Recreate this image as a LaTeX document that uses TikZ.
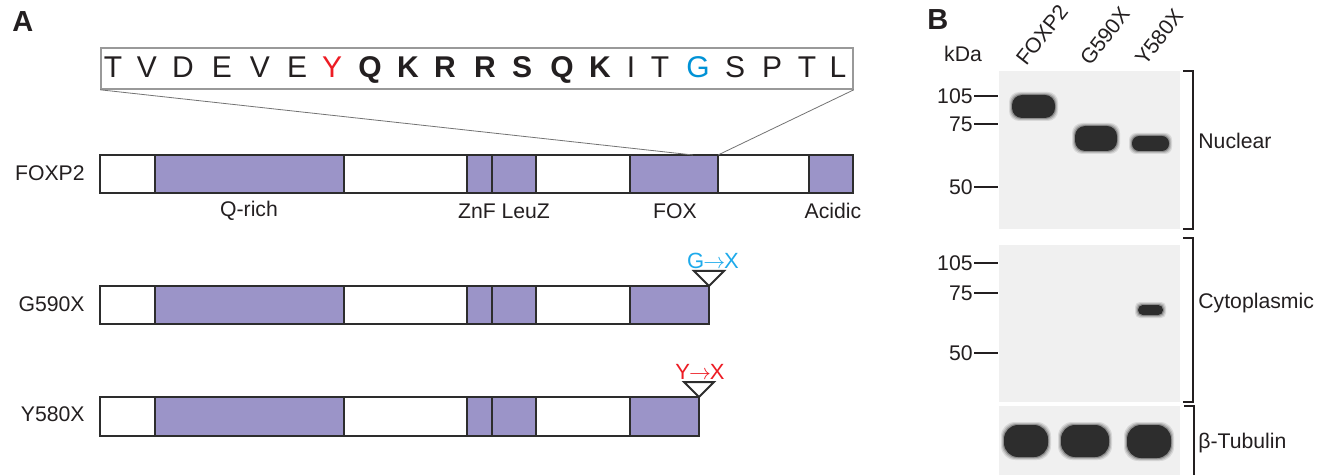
\documentclass[tikz,border=0pt]{standalone}
\usepackage{fontspec}
\setmainfont{Liberation Sans}
\definecolor{domc}{RGB}{155,148,200}
\definecolor{linec}{RGB}{45,45,45}
\definecolor{txtc}{RGB}{35,31,32}
\definecolor{redc}{RGB}{237,28,36}
\definecolor{bluec}{RGB}{0,146,214}
\definecolor{cyanc}{RGB}{30,170,235}
\definecolor{blotbg}{RGB}{240,240,240}
\definecolor{bandc}{RGB}{45,45,45}
\newcommand\blotband[5]{%
  \foreach \e/\o in {3/0.12,2/0.18,1/0.3}{%
    \fill[bandc, opacity=\o, rounded corners=#5] (#1-\e,#2-\e) rectangle (#3+\e,#4+\e);}%
  \fill[bandc, rounded corners=#5] (#1,#2) rectangle (#3,#4);}
\begin{document}
\begin{tikzpicture}[x=0.5pt,y=-0.5pt,
  txt/.style={text=txtc, inner sep=0pt, font=\fontsize{10.6}{12}\selectfont},
  seqletter/.style={text=txtc, inner sep=0pt, anchor=base, font=\fontsize{15}{18}\selectfont},
  seqbold/.style={seqletter, font=\fontsize{15}{18}\selectfont\bfseries},
  panel/.style={text=txtc, inner sep=0pt, font=\fontsize{14.5}{16}\selectfont\bfseries},
  seg/.style={draw=linec, line width=1pt},
  zoomline/.style={draw=black!55, line width=0.4pt},
  marker/.style={draw=txtc, line width=0.9pt},
  bracket/.style={draw=txtc, line width=0.7pt},
  mut/.style={inner sep=0pt, font=\fontsize{11}{12}\selectfont},
  collabel/.style={txt, anchor=base west, rotate=52}]
\useasboundingbox (0,0) rectangle (1325,475);
\fill[white] (0,0) rectangle (1325,475);

% ---------- Panel A ----------
\node[panel, anchor=west] (pA) at (12,22) {A};

\node[draw=black!40, line width=0.8pt, minimum width=376pt, minimum height=20.5pt, inner sep=0pt] (seq) at (477,68.5) {};
\foreach \ch/\xx/\st [count=\i] in {T/113/seqletter, V/147/seqletter, D/183/seqletter, E/222/seqletter, V/260/seqletter, E/297/seqletter,
   Q/370/seqbold, K/408/seqbold, R/445/seqbold, R/485/seqbold, S/522/seqbold, Q/562/seqbold, K/600/seqbold,
   I/631/seqletter, T/660/seqletter, S/735/seqletter, P/772/seqletter, T/807/seqletter, L/838/seqletter}
  \node[\st] (s\i) at (\xx,78) {\ch};
\node[seqletter, text=redc] (sY) at (332,78) {Y};
\node[seqletter, text=bluec] (sG) at (698,78) {G};

% FOXP2 bar
\foreach \a/\b/\f in {100/155/white, 155/344/domc, 344/467/white, 467/492/domc, 492/536/domc, 536/630/white, 630/718/domc, 718/809/white, 809/853/domc}
  \draw[seg, fill=\f] (\a,155) rectangle (\b,193);
\coordinate (zl) at (693,155);
\coordinate (zr) at (718,155);
\draw[zoomline] (seq.south west) -- (zl);
\draw[zoomline] (seq.south east) -- (zr);
\node[txt, anchor=east] (lf) at (85,173) {FOXP2};
\node[txt] (dq) at (249,211) {Q-rich};
\node[txt] (dz) at (504,211) {ZnF LeuZ};
\node[txt] (df) at (675,211) {FOX};
\node[txt] (da) at (833,211) {Acidic};

% G590X bar
\foreach \a/\b/\f in {100/155/white, 155/344/domc, 344/467/white, 467/492/domc, 492/536/domc, 536/630/white, 630/709/domc}
  \draw[seg, fill=\f] (\a,286) rectangle (\b,324);
\node[txt, anchor=east] (lg) at (85,304) {G590X};
\coordinate (tg) at (709,286);
\draw[seg, fill=white, line join=miter] (tg) -- ++(-15,-15) -- ++(30,0) -- cycle;
\node[mut, text=cyanc] (mg) at (713,261) {G\kern-0.5pt$\rightarrow$\kern-0.5pt X};

% Y580X bar
\foreach \a/\b/\f in {100/155/white, 155/344/domc, 344/467/white, 467/492/domc, 492/536/domc, 536/630/white, 630/699/domc}
  \draw[seg, fill=\f] (\a,397) rectangle (\b,436);
\node[txt, anchor=east] (ly) at (85,414) {Y580X};
\coordinate (ty) at (699,397);
\draw[seg, fill=white, line join=miter] (ty) -- ++(-15,-15) -- ++(30,0) -- cycle;
\node[mut, text=redc] (my) at (700,372) {Y\kern-0.5pt$\rightarrow$\kern-0.5pt X};

% ---------- Panel B ----------
\node[panel, anchor=west] (pB) at (927,20) {B};
\node[txt, anchor=base] (kda) at (963,62) {kDa};
\node[collabel] (cf) at (1026,67) {FOXP2};
\node[collabel] (cg) at (1090,67) {G590X};
\node[collabel] (cy) at (1145,67) {Y580X};

% blot 1
\fill[blotbg] (999,71) rectangle (1180,229);
\blotband{1012}{95}{1055}{118}{5pt}
\blotband{1075}{126}{1117}{151}{5pt}
\blotband{1132}{136}{1169}{151}{3.5pt}
\foreach \mv/\yy in {105/96, 75/124, 50/187} {
  \draw[marker] (974,\yy) -- (998,\yy);
  \node[txt, anchor=east] (m1\mv) at (973,\yy) {\mv};
}
\draw[bracket] (1183,71) -- (1193,71) -- (1193,229) -- (1183,229);
\node[txt, anchor=west] (nuc) at (1198,141) {Nuclear};

% blot 2
\fill[blotbg] (999,245) rectangle (1180,402);
\blotband{1138}{305}{1163}{315}{2.4pt}
\foreach \mv/\yy in {105/263, 75/293, 50/353} {
  \draw[marker] (974,\yy) -- (998,\yy);
  \node[txt, anchor=east] (m2\mv) at (973,\yy) {\mv};
}
\draw[bracket] (1183,238) -- (1193,238) -- (1193,402) -- (1183,402);
\node[txt, anchor=west] (cyt) at (1198,303) {Cytoplasmic};

% blot 3
\fill[blotbg] (999,406) rectangle (1180,475);
\blotband{1004}{425}{1048}{457}{7pt}
\blotband{1061}{425}{1109}{457}{7pt}
\blotband{1127}{425}{1171}{458}{7pt}
\draw[bracket] (1184,406) -- (1194,406) -- (1194,475);
\node[txt, anchor=west] (tub) at (1198,443) {β-Tubulin};
\end{tikzpicture}
\end{document}
